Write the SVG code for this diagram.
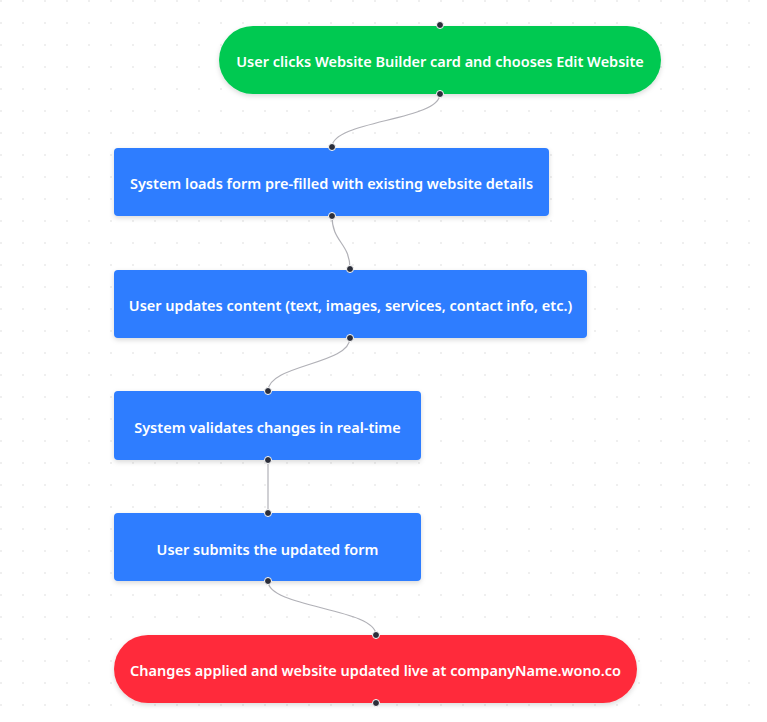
<svg xmlns="http://www.w3.org/2000/svg" width="767" height="722" viewBox="0 0 767 722">
<defs>
<pattern id="dots" x="0" y="0" width="22" height="22" patternUnits="userSpaceOnUse">
<circle cx="1" cy="1" r="0.8" fill="#dadada"/>
</pattern>
<filter id="sh" x="-10%" y="-30%" width="120%" height="160%">
<feDropShadow dx="0" dy="2" stdDeviation="2.5" flood-color="#000" flood-opacity="0.15"/>
</filter>
</defs>
<style>
.lbl{font-family:"Noto Sans","Open Sans","Liberation Sans",sans-serif;font-size:14.5px;font-weight:600;fill:#ffffff;text-anchor:middle;dominant-baseline:central}
.edge{fill:none;stroke:#b1b1b7;stroke-width:1.2}
.h{fill:#2b2e3a;stroke:#ffffff;stroke-width:1}
.g{fill:#00c951}
.b{fill:#2e7dff}
.r{fill:#ff2b3a}
</style>
<rect width="767" height="722" fill="#ffffff"/>
<rect width="767" height="722" fill="url(#dots)"/>
<g id="connectors">
<path class="edge" d="M440,94 C440,120.5 332,120.5 332,147"/>
<path class="edge" d="M332,216 C332,242.5 350,242.5 350,269"/>
<path class="edge" d="M350,338 C350,364.5 268,364.5 268,391"/>
<path class="edge" d="M268,460 L268,513"/>
<path class="edge" d="M268,581 C268,608 376,608 376,635"/>
</g>
<g id="n1">
<rect class="g" x="219" y="26" width="442" height="68" rx="34" filter="url(#sh)"/>
<text class="lbl" x="440" y="61">User clicks Website Builder card and chooses Edit Website</text>
<circle class="h" cx="440" cy="25" r="3.5"/>
<circle class="h" cx="440" cy="94" r="3.5"/>
</g>
<g id="n2">
<rect class="b" x="114" y="148" width="435" height="68" rx="4" filter="url(#sh)"/>
<text class="lbl" x="331.5" y="183">System loads form pre-filled with existing website details</text>
<circle class="h" cx="332" cy="147" r="3.5"/>
<circle class="h" cx="332" cy="216" r="3.5"/>
</g>
<g id="n3">
<rect class="b" x="114" y="270" width="473" height="68" rx="4" filter="url(#sh)"/>
<text class="lbl" x="350.5" y="305">User updates content (text, images, services, contact info, etc.)</text>
<circle class="h" cx="350" cy="269" r="3.5"/>
<circle class="h" cx="350" cy="338" r="3.5"/>
</g>
<g id="n4">
<rect class="b" x="114" y="391" width="307" height="69" rx="4" filter="url(#sh)"/>
<text class="lbl" x="267.5" y="427">System validates changes in real-time</text>
<circle class="h" cx="268" cy="391" r="3.5"/>
<circle class="h" cx="268" cy="460" r="3.5"/>
</g>
<g id="n5">
<rect class="b" x="114" y="513" width="307" height="68" rx="4" filter="url(#sh)"/>
<text class="lbl" x="267.5" y="549">User submits the updated form</text>
<circle class="h" cx="268" cy="513" r="3.5"/>
<circle class="h" cx="268" cy="581" r="3.5"/>
</g>
<g id="n6">
<rect class="r" x="114" y="635" width="523" height="68" rx="34" filter="url(#sh)"/>
<text class="lbl" x="375.5" y="670">Changes applied and website updated live at companyName.wono.co</text>
<circle class="h" cx="376" cy="635" r="3.5"/>
<circle class="h" cx="376" cy="703" r="3.5"/>
</g>
</svg>
